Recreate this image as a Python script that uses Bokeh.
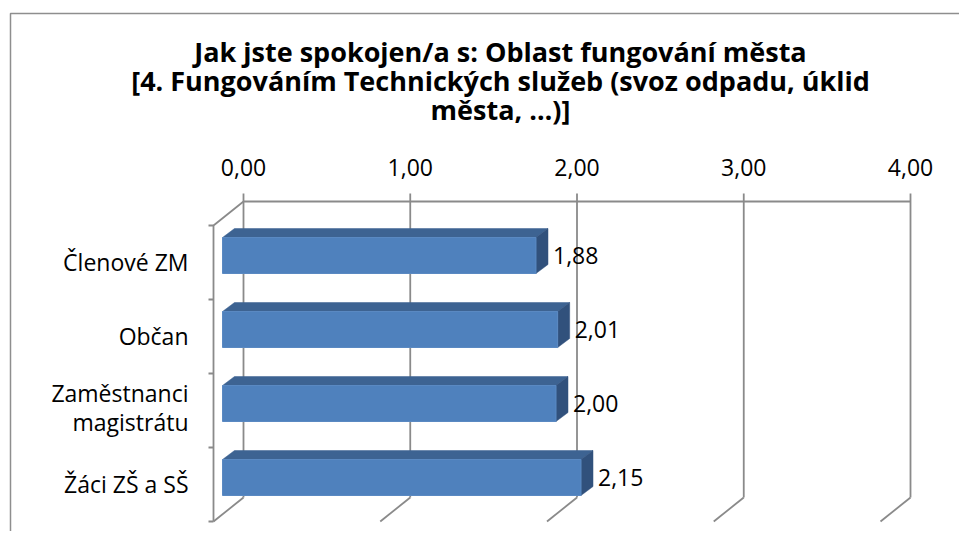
from bokeh.plotting import figure
from bokeh.models import Range1d
from bokeh.core.properties import value
from bokeh.embed import file_html
from bokeh.resources import INLINE

# ---------------- data ----------------
categories = ["Členové ZM", "Občan", "Zaměstnanci\nmagistrátu", "Žáci ZŠ a SŠ"]
scores = [1.88, 2.01, 2.00, 2.15]
score_labels = ["1,88", "2,01", "2,00", "2,15"]
ticks = [0, 1, 2, 3, 4]
tick_labels = ["0,00", "1,00", "2,00", "3,00", "4,00"]
title_lines = [
    "Jak jste spokojen/a s: Oblast fungování města",
    "[4. Fungováním Technických služeb (svoz odpadu, úklid",
    "města, …)]",
]

# ---------------- layout ----------------
W, H = 959, 531
ORIGIN = 0                       # page position of the figure's top-left corner
PX = 166.75                      # pixels per value unit
X0 = -(243 - ORIGIN) / PX        # value at left frame edge
TXT_SHIFT = -10                  # baseline correction for rendered text


def dv(px):
    """pixel offset -> value offset"""
    return px / PX


def gx(page_x):
    return X0 + (page_x - ORIGIN) / PX


FONT = value("Open Sans")
GRID = "#8a8a8a"
BACK_TOP, BACK_BOT = 201, 497
DEPTH_X, DEPTH_Y = -30, 24
ROW = 74

p = figure(width=W, height=H, output_backend="svg", toolbar_location=None,
           x_range=Range1d(X0, X0 + W / PX), y_range=Range1d(ORIGIN + H, ORIGIN),
           x_axis_type=None, y_axis_type=None, min_border=0,
           outline_line_color=None, background_fill_color="white",
           border_fill_color="white")

# chart border
p.line([gx(10), gx(10), gx(ORIGIN + W)], [ORIGIN + H, 13, 13],
       line_color="#8e8e8e", line_width=1.5)

# back-wall gridlines, tick stubs, floor diagonals
tmin, tmax = ticks[0], ticks[-1]
p.segment(x0=ticks, y0=[BACK_TOP - 8] * len(ticks), x1=ticks, y1=[BACK_BOT] * len(ticks),
          line_color=GRID, line_width=1.8)
p.segment(x0=ticks, y0=[BACK_BOT] * len(ticks),
          x1=[t + dv(DEPTH_X) for t in ticks], y1=[BACK_BOT + DEPTH_Y] * len(ticks),
          line_color=GRID, line_width=1.8)
p.line([tmin, tmax], [BACK_TOP, BACK_TOP], line_color=GRID, line_width=1.8)
# left wall top diagonal and front category axis
fx = tmin + dv(DEPTH_X)
p.line([tmin, fx, fx], [BACK_TOP, BACK_TOP + DEPTH_Y, BACK_BOT + DEPTH_Y],
       line_color=GRID, line_width=1.8)
n = len(categories)
cat_ticks_y = [BACK_TOP + DEPTH_Y + ROW * i for i in range(n + 1)]
p.segment(x0=[fx - dv(5)] * (n + 1), y0=cat_ticks_y, x1=[fx] * (n + 1), y1=cat_ticks_y,
          line_color=GRID, line_width=1.8)

# tick labels on top
p.text(x=ticks, y=[177 + TXT_SHIFT] * len(ticks), text=tick_labels, text_font=FONT,
       text_font_size="23px", text_align="center", text_baseline="alphabetic",
       text_color="black")

# ---------------- bars ----------------
BAR_OFF = dv(-21)
BAR_HALF = 18
TX, TY = dv(12), -9
centers = [255 + ROW * i for i in range(n)]
lefts = [BAR_OFF] * n
rights = [s + BAR_OFF for s in scores]
tops = [c - BAR_HALF for c in centers]
bots = [c + BAR_HALF for c in centers]

top_xs = [[l, r, r + TX, l + TX] for l, r in zip(lefts, rights)]
top_ys = [[t, t, t + TY, t + TY] for t in tops]
side_xs = [[r, r + TX, r + TX, r] for r in rights]
side_ys = [[t, t + TY, b + TY, b] for t, b in zip(tops, bots)]

p.patches(top_xs, top_ys, fill_color="#3d6392", line_color="#3d6392", line_width=0.5)
p.patches(side_xs, side_ys, fill_color="#31517c", line_color="#31517c", line_width=0.5)
p.quad(left=lefts, right=rights, top=tops, bottom=bots,
       fill_color="#4f81bd", line_color="#5a89c2", line_width=1)

# data labels
p.text(x=[r + dv(17) for r in rights], y=[c + 9.5 + TXT_SHIFT for c in centers],
       text=score_labels, text_font=FONT, text_font_size="23px", text_align="left",
       text_baseline="alphabetic", text_color="black")

# category labels
lab_x, lab_y, lab_t = [], [], []
for i, cat in enumerate(categories):
    mid = (cat_ticks_y[i] + cat_ticks_y[i + 1]) / 2 + TXT_SHIFT
    parts = cat.split("\n")
    if len(parts) == 1:
        lab_x.append(fx - dv(25)); lab_y.append(mid + 9.5); lab_t.append(parts[0])
    else:
        lab_x += [fx - dv(25)] * 2
        lab_y += [mid - 7.5, mid + 21.5]
        lab_t += parts
p.text(x=lab_x, y=lab_y, text=lab_t, text_font=FONT, text_font_size="23px",
       text_align="right", text_baseline="alphabetic", text_color="black")

# title
p.text(x=[gx(500)] * 3, y=[y + TXT_SHIFT for y in (60.5, 89.5, 118.5)], text=title_lines,
       text_font=FONT, text_font_size="27px", text_font_style="bold", text_align="center",
       text_baseline="alphabetic", text_color="black")

open("out.html", "w").write(file_html(p, INLINE))
